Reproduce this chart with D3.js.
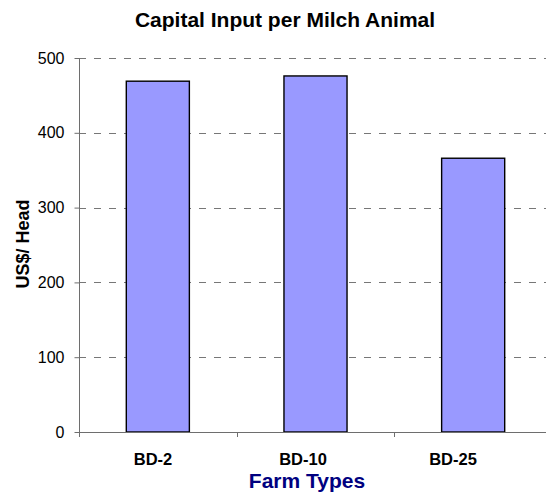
<!DOCTYPE html>
<html>
<head>
<meta charset="utf-8">
<script src="https://cdn.jsdelivr.net/npm/d3@7"></script>
<style>
  html, body { margin: 0; padding: 0; background: #fff; }
  svg { display: block; font-family: Arial, "Liberation Sans", sans-serif; }
</style>
</head>
<body>
<svg id="chart" width="546" height="497"></svg>
<script>
// Capital input per milch animal by farm type (US$ per head)
const categories = ["BD-2", "BD-10", "BD-25"];
const values = [469, 476, 366];
const yTicks = [0, 100, 200, 300, 400, 500];

const svg = d3.select("#chart");
const W = 546, H = 497;
const plot = { left: 79, right: 552, top: 58, bottom: 432 };

const x = d3.scaleBand()
  .domain(categories)
  .range([plot.left, plot.right])
  .paddingInner(0.6)
  .paddingOuter(0.3);

// category labels sit on a slightly narrower band
const xLabel = d3.scaleBand()
  .domain(categories)
  .range([78, 528]);

const y = d3.scaleLinear().domain([0, 500]).range([plot.bottom, plot.top]);

// horizontal dashed gridlines
svg.append("g")
  .selectAll("line")
  .data(yTicks.filter(d => d > 0))
  .join("line")
  .attr("x1", plot.left)
  .attr("x2", W)
  .attr("y1", d => Math.round(y(d)) + 0.5)
  .attr("y2", d => Math.round(y(d)) + 0.5)
  .attr("stroke", "#777")
  .attr("stroke-width", 1.2)
  .attr("stroke-dasharray", "7,8");

// bars
svg.append("g")
  .selectAll("rect")
  .data(categories)
  .join("rect")
  .attr("x", (d) => x(d))
  .attr("y", (d, i) => y(values[i]))
  .attr("width", x.bandwidth())
  .attr("height", (d, i) => y(0) - y(values[i]))
  .attr("fill", "#9999FF")
  .attr("stroke", "#000")
  .attr("stroke-width", 1.4);

// y axis
const yAxis = svg.append("g")
  .attr("transform", `translate(${plot.left + 0.5},0)`)
  .call(d3.axisLeft(y).tickValues(yTicks).tickSize(5).tickPadding(10).tickFormat(d3.format("d")));
yAxis.select(".domain").attr("stroke", "#6e6e6e").attr("d", `M0,${plot.top}V${plot.bottom}`);
yAxis.selectAll(".tick line").attr("stroke", "#6e6e6e");
yAxis.selectAll(".tick text").attr("font-size", 16).attr("fill", "#000")
  .attr("font-family", "Arial, 'Liberation Sans', sans-serif");

// x axis: ticks at the category boundaries
const boundaries = categories.map(c => x(c) - x.step() * x.paddingInner() / 2);
const xAxisG = svg.append("g");
xAxisG.append("line")
  .attr("x1", plot.left).attr("x2", W)
  .attr("y1", plot.bottom + 0.5).attr("y2", plot.bottom + 0.5)
  .attr("stroke", "#6e6e6e");
xAxisG.selectAll("line.tk")
  .data(boundaries)
  .join("line")
  .attr("class", "tk")
  .attr("x1", d => Math.round(d) + 0.5).attr("x2", d => Math.round(d) + 0.5)
  .attr("y1", plot.bottom).attr("y2", plot.bottom + 5)
  .attr("stroke", "#6e6e6e");

xAxisG.selectAll("text")
  .data(categories)
  .join("text")
  .attr("x", d => xLabel(d) + xLabel.bandwidth() / 2)
  .attr("y", 465)
  .attr("text-anchor", "middle")
  .attr("font-size", 16.5)
  .attr("font-weight", "bold")
  .attr("fill", "#000")
  .text(d => d);

// title
svg.append("text")
  .attr("x", 285)
  .attr("y", 27)
  .attr("text-anchor", "middle")
  .attr("font-size", 21)
  .attr("font-weight", "bold")
  .attr("fill", "#000")
  .text("Capital Input per Milch Animal");

// axis titles
svg.append("text")
  .attr("transform", "translate(29,244) rotate(-90)")
  .attr("text-anchor", "middle")
  .attr("font-size", 18)
  .attr("font-weight", "bold")
  .attr("fill", "#000")
  .text("US$/ Head");

svg.append("text")
  .attr("x", 307)
  .attr("y", 488)
  .attr("text-anchor", "middle")
  .attr("font-size", 21)
  .attr("font-weight", "bold")
  .attr("fill", "#000080")
  .text("Farm Types");
</script>
</body>
</html>
